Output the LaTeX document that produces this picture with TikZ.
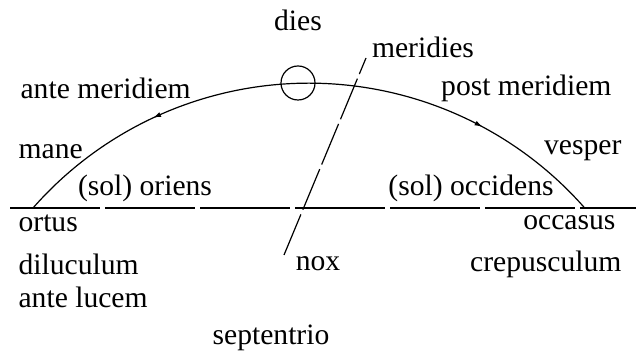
\documentclass[tikz,border=0pt]{standalone}
\usepackage{fontspec}
\setmainfont{Liberation Serif}
\usetikzlibrary{arrows.meta,decorations.markings}
\begin{document}
\begin{tikzpicture}[x=0.5pt,y=-0.5pt,line width=0.6pt,every node/.style={font=\fontsize{14.8}{17}\selectfont,inner sep=0pt}]
  \useasboundingbox (0,0) rectangle (636,351);
  % horizon, meridian and the sun's path
  \coordinate (hw) at (10,208); \coordinate (he) at (636,208);
  \coordinate (rise) at (33,208);
  \coordinate (north) at (366,58); \coordinate (south) at (284,255);
  \draw[dash pattern=on 45pt off 2.5pt] (hw) -- (he);
  \draw[dash pattern=on 22pt off 2.5pt] (south) -- (north);
  \draw[decoration={markings,mark=at position 0.255 with {\arrow{Latex[length=4pt,width=2.5pt,reversed]}},mark=at position 0.79 with {\arrow{Latex[length=4pt,width=2.5pt]}}},postaction={decorate}]
    (rise) arc[start angle=138.7,end angle=41.3,radius=183.6pt] coordinate (set);
  \node[draw,circle,minimum size=17pt] (sun) at (298,83) {};
  % labels
  \node (dies) at (298,20) {dies};
  \node (meridies) at (423,47) {meridies};
  \node[anchor=west] (am) at (20,88) {ante meridiem};
  \node[anchor=east] (pm) at (612,88) {post meridiem};
  \node[anchor=west] (mane) at (18,152) {mane};
  \node[anchor=east] (vesper) at (622,151) {vesper};
  \node (oriens) at (145,188) {(sol) oriens};
  \node (occidens) at (471,188) {(sol) occidens};
  \node[anchor=west] (ortus) at (18,223) {ortus};
  \node[anchor=east] (occasus) at (616,223) {occasus};
  \node[anchor=west] (dilu) at (18,264) {diluculum};
  \node (nox) at (318,264) {nox};
  \node[anchor=east] (crep) at (622,264) {crepusculum};
  \node[anchor=west] (lucem) at (18,297) {ante lucem};
  \node (sept) at (271,338) {septentrio};
\end{tikzpicture}
\end{document}
